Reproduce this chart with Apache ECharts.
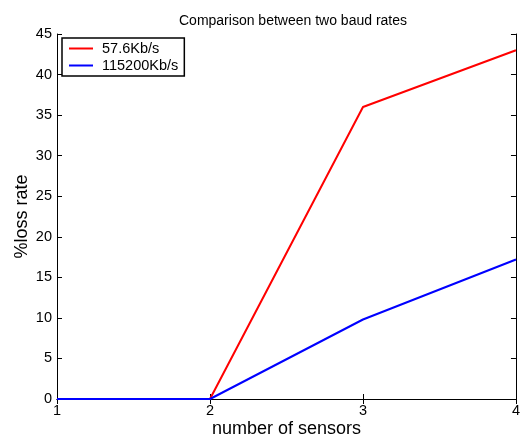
<!DOCTYPE html>
<html>
<head>
<meta charset="utf-8">
<script src="https://cdn.jsdelivr.net/npm/echarts@6/dist/echarts.min.js"></script>
<style>
  body { margin: 0; background: #fff; }
  #chart { width: 523px; height: 445px; }
</style>
</head>
<body>
<div id="chart"></div>
<script>
// 数据
var sensors = [1, 2, 3, 4];
var rate576 = [0, 0, 36, 43];
var rate115200 = [0, 0, 9.8, 17.2];
var seriesNames = ['57.6Kb/s', '115200Kb/s'];

function pairs(xs, ys) {
	var out = [];
	for (var i = 0; i < xs.length; i++) out.push([xs[i], ys[i]]);
	return out;
}

var font = 'Liberation Sans, Arial, sans-serif';
var myChart = echarts.init(document.getElementById('chart'));

var axisCommon = {
	axisLine: { show: true, lineStyle: { color: '#000', width: 1 } },
	axisTick: { show: true, inside: true, length: 5, lineStyle: { color: '#000' } },
	splitLine: { show: false }
};

option = {
	backgroundColor: '#fff',
	animation: false,
	title: {
		text: 'Comparison between two baud rates',
		left: 288,
		textAlign: 'center',
		top: 9,
		textStyle: { fontFamily: font, fontSize: 14, fontWeight: 'normal', color: '#000' }
	},
	legend: {
		data: seriesNames,
		orient: 'vertical',
		left: 62,
		top: 38,
		padding: [3, 6, 3, 7],
		itemGap: 2,
		itemWidth: 24,
		itemHeight: 14,
		borderColor: '#000',
		borderWidth: 1.5,
		backgroundColor: '#fff',
		icon: 'path://M0,6 L24,6 L24,8 L0,8 Z',
		textStyle: { fontFamily: font, fontSize: 14.5, color: '#000', padding: [0, 0, 0, 4] }
	},
	grid: { left: 57, right: 5, top: 34, bottom: 46 },
	xAxis: [
		Object.assign({
			type: 'value', min: 1, max: 4, interval: 1,
			position: 'bottom',
			name: 'number of sensors',
			nameLocation: 'middle',
			nameGap: 21,
			nameMoveOverlap: false,
			nameTextStyle: { fontFamily: font, fontSize: 18, color: '#000' },
			axisLabel: { fontFamily: font, fontSize: 14.5, color: '#000', margin: 4 }
		}, axisCommon),
		Object.assign({
			type: 'value', min: 1, max: 4, interval: 1,
			position: 'top',
			axisLabel: { show: false }
		}, axisCommon)
	],
	yAxis: [
		Object.assign({
			type: 'value', min: 0, max: 45, interval: 5,
			position: 'left',
			name: '%loss rate',
			nameLocation: 'middle',
			nameGap: 26,
			nameMoveOverlap: false,
			nameTextStyle: { fontFamily: font, fontSize: 18, color: '#000' },
			axisLabel: { fontFamily: font, fontSize: 14.5, color: '#000', margin: 5 }
		}, axisCommon),
		Object.assign({
			type: 'value', min: 0, max: 45, interval: 5,
			position: 'right',
			axisLabel: { show: false }
		}, axisCommon)
	],
	series: [
		{
			name: seriesNames[0],
			type: 'line',
			data: pairs(sensors, rate576),
			symbol: 'none',
			lineStyle: { color: '#ff0000', width: 2 },
			itemStyle: { color: '#ff0000' }
		},
		{
			name: seriesNames[1],
			type: 'line',
			data: pairs(sensors, rate115200),
			symbol: 'none',
			lineStyle: { color: '#0000ff', width: 2 },
			itemStyle: { color: '#0000ff' }
		}
	]
};

myChart.setOption(option);
</script>
</body>
</html>
